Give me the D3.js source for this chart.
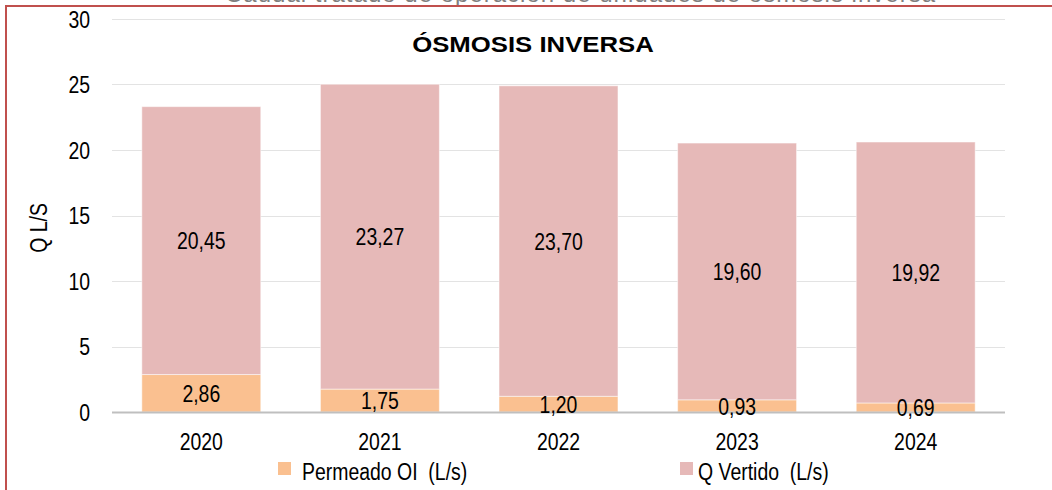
<!DOCTYPE html>
<html>
<head>
<meta charset="utf-8">
<script src="https://cdn.jsdelivr.net/npm/d3@7"></script>
<style>
  body { margin: 0; background: #fff; }
  svg { display: block; }
  svg text { font-family: "Liberation Sans Narrow", "Arial Narrow", "Liberation Sans", sans-serif; }
</style>
</head>
<body>
<div id="chart"><svg width="1052" height="490"></svg></div>
<script>
const years = ["2020", "2021", "2022", "2023", "2024"];
const permeado = [2.86, 1.75, 1.20, 0.93, 0.69];
const vertido = [20.45, 23.27, 23.70, 19.60, 19.92];
const yTicks = [0, 5, 10, 15, 20, 25, 30];
const seriesNames = ["Permeado OI  (L/s)", "Q Vertido  (L/s)"];
const seriesColors = ["#FAC090", "#E6B9B8"];

const svg = d3.select("#chart svg");
const margin = {top: 19, right: 47, bottom: 78, left: 112};
const width = 1052, height = 490;
const narrow = 0.81; // no narrow font installed, squeeze horizontally

const table = years.map((y, i) => ({year: y, permeado: permeado[i], vertido: vertido[i]}));
const stack = d3.stack().keys(["permeado", "vertido"])(table);

const x = d3.scaleBand()
    .domain(years)
    .range([margin.left, width - margin.right])
    .paddingInner(0.334)
    .paddingOuter(0.167);

const y = d3.scaleLinear()
    .domain([0, 30])
    .range([height - margin.bottom, margin.top]);

const at = (px, py) => `translate(${px},${py}) scale(${narrow},1)`;

// clipped heading above the frame
svg.append("text")
    .attr("x", 225)
    .attr("y", 2)
    .attr("textLength", 710)
    .attr("fill", "#7F7F7F")
    .style("font-size", "24px")
    .text("Caudal tratado de operación de unidades de ósmosis inversa");

// frame
svg.append("rect")
    .attr("x", 6).attr("y", 6)
    .attr("width", 1100).attr("height", 600)
    .attr("fill", "none")
    .attr("stroke", "#C0504D")
    .attr("stroke-width", 2);

// gridlines
svg.append("g")
    .selectAll("line")
    .data(yTicks.filter(d => d > 0))
    .enter()
    .append("line")
    .attr("x1", margin.left)
    .attr("x2", width - margin.right)
    .attr("y1", d => Math.round(y(d)) + 0.5)
    .attr("y2", d => Math.round(y(d)) + 0.5)
    .attr("stroke", "#E3E3E3");

// bars
svg.append("g")
    .selectAll("g")
    .data(stack)
    .enter()
    .append("g")
    .attr("fill", (d, i) => seriesColors[i])
    .selectAll("rect")
    .data(d => d)
    .enter()
    .append("rect")
    .attr("x", d => x(d.data.year))
    .attr("y", d => y(d[1]))
    .attr("width", x.bandwidth())
    .attr("height", d => y(d[0]) - y(d[1]))
    .attr("stroke", "#fff")
    .attr("stroke-opacity", 0.5)
    .attr("stroke-width", 1);

// baseline
svg.append("line")
    .attr("x1", margin.left)
    .attr("x2", width - margin.right)
    .attr("y1", y(0) + 0.5)
    .attr("y2", y(0) + 0.5)
    .attr("stroke", "#BFBFBF")
    .attr("stroke-width", 2);

// value labels
stack.forEach(s => {
    svg.append("g")
        .selectAll("text")
        .data(s)
        .enter()
        .append("text")
        .attr("transform", d => at(x(d.data.year) + x.bandwidth() / 2, (y(d[0]) + y(d[1])) / 2))
        .attr("dy", "0.36em")
        .attr("text-anchor", "middle")
        .attr("fill", "#000")
        .style("font-size", "24px")
        .text(d => d3.format(".2f")(d[1] - d[0]).replace(".", ","));
});

// y axis labels
svg.append("g")
    .selectAll("text")
    .data(yTicks)
    .enter()
    .append("text")
    .attr("transform", d => at(90, y(d)))
    .attr("dy", "0.36em")
    .attr("text-anchor", "end")
    .style("font-size", "24px")
    .text(d => d);

// x axis labels
svg.append("g")
    .selectAll("text")
    .data(years)
    .enter()
    .append("text")
    .attr("transform", d => at(x(d) + x.bandwidth() / 2, 450))
    .attr("text-anchor", "middle")
    .style("font-size", "24px")
    .text(d => d);

// axis title
svg.append("text")
    .attr("transform", `translate(47,228) rotate(-90) scale(${narrow},1)`)
    .attr("text-anchor", "middle")
    .style("font-size", "24px")
    .text("Q L/S");

// title
svg.append("text")
    .attr("transform", "translate(533,52) scale(1.17,1)")
    .attr("text-anchor", "middle")
    .style("font-family", "'Liberation Sans', Arial, sans-serif")
    .style("font-size", "22px")
    .style("font-weight", "bold")
    .text("ÓSMOSIS INVERSA");

// legend
const legendX = [278, 680];
const legend = svg.append("g")
    .selectAll("g")
    .data(seriesNames)
    .enter()
    .append("g")
    .attr("transform", (d, i) => `translate(${legendX[i]},462)`);

legend.append("rect")
    .attr("width", 13)
    .attr("height", 13)
    .attr("fill", (d, i) => seriesColors[i]);

legend.append("text")
    .attr("transform", (d, i) => at(i === 0 ? 24 : 18, 18))
    .style("font-size", "24px")
    .style("white-space", "pre")
    .text(d => d);
</script>
</body>
</html>
